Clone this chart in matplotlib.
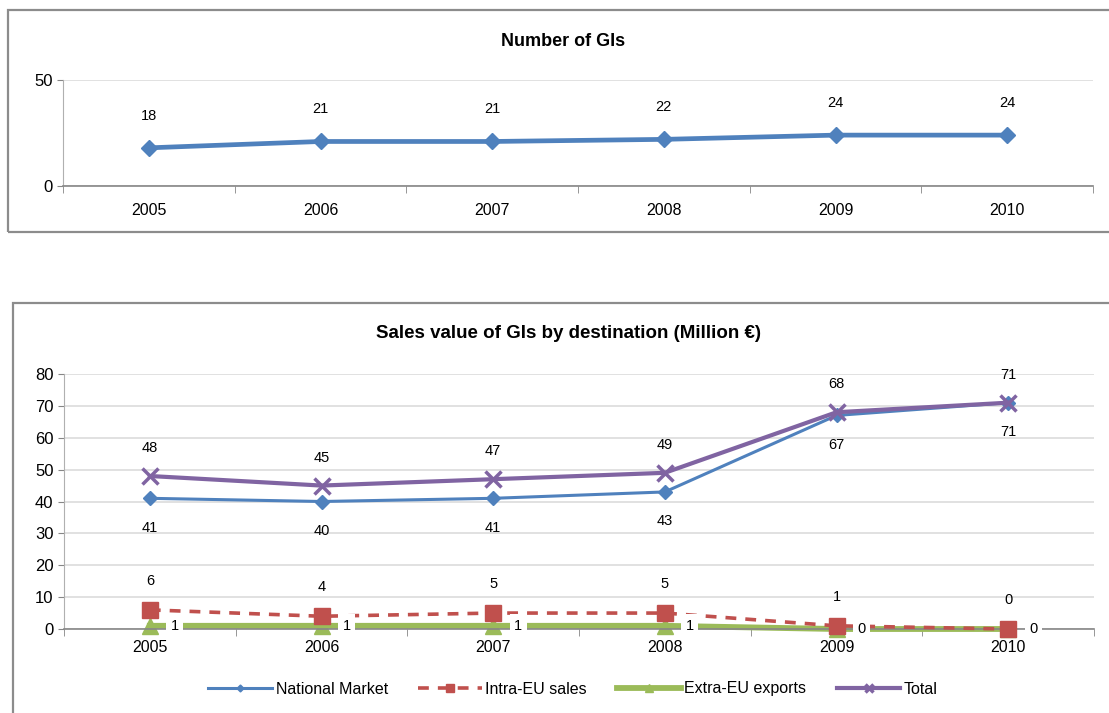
import numpy as np
import matplotlib.pyplot as plt
from matplotlib.patches import Rectangle

plt.rcParams["font.family"] = ["Liberation Sans", "DejaVu Sans"]

# ------------------------------------------------------------
# Data
# ------------------------------------------------------------
years = ["2005", "2006", "2007", "2008", "2009", "2010"]

n_gis = [18, 21, 21, 22, 24, 24]

national_market = [41, 40, 41, 43, 67, 71]
intra_eu_sales = [6, 4, 5, 5, 1, 0]
extra_eu_exports = [1, 1, 1, 1, 0, 0]
total_sales = [48, 45, 47, 49, 68, 71]

C_BLUE = "#4F81BD"
C_RED = "#C0504D"
C_GREEN = "#9BBB59"
C_PURPLE = "#8064A2"
GRID = "#dcdcdc"
AXIS = "#868686"

W, H = 1109, 713
fig = plt.figure(figsize=(W / 100, H / 100), dpi=100)


def frac(x0, y0, x1, y1):
    # pixel box (top-left origin) -> figure fraction rect
    return [x0 / W, 1 - y1 / H, (x1 - x0) / W, (y1 - y0) / H]


# panel borders
for x0, y0, x1, y1 in [(8, 10, 1115, 232), (13, 303, 1115, 720)]:
    fig.patches.append(Rectangle((x0 / W, 1 - y1 / H), (x1 - x0) / W, (y1 - y0) / H,
                                 transform=fig.transFigure, fill=False,
                                 edgecolor="#8c8c8c", linewidth=1.6, clip_on=False))

x = np.arange(len(years))


def style_axis(ax, ymax, step, xpad):
    ax.set_xlim(-0.5, len(years) - 0.5)
    ax.set_ylim(0, ymax)
    ax.set_yticks(np.arange(0, ymax + 1, step))
    ax.set_xticks(x)
    ax.set_xticklabels(years)
    ax.set_xticks(np.arange(-0.5, len(years), 1), minor=True)
    ax.tick_params(axis="x", which="major", length=0, labelsize=11.5, pad=xpad)
    ax.tick_params(axis="x", which="minor", length=5, direction="out", color=AXIS)
    ax.tick_params(axis="y", length=4, direction="out", color=AXIS, labelsize=12)
    for s in ["top", "right"]:
        ax.spines[s].set_visible(False)
    ax.spines["bottom"].set_color(AXIS)
    ax.spines["bottom"].set_linewidth(1.2)
    ax.spines["left"].set_color("#b0b0b0")
    ax.yaxis.grid(True, which="major", color=GRID, linewidth=1.2, linestyle="-")
    ax.xaxis.grid(False)
    ax.set_axisbelow(True)


# ------------------------------------------------------------
# Number of GIs
# ------------------------------------------------------------
ax1 = fig.add_axes(frac(63, 80, 1093, 186))
style_axis(ax1, 50, 50, 12)
ax1.plot(x, n_gis, color=C_BLUE, linewidth=3.4, marker="D", markersize=8, clip_on=False)
for xi, v in zip(x, n_gis):
    ax1.annotate(str(v), (xi, v), xytext=(0, 18), textcoords="offset points",
                 ha="center", va="bottom", fontsize=10.5)
fig.text(563 / W, 1 - 42 / H, "Number of GIs", ha="center", va="center",
         fontsize=13, fontweight="bold")

# ------------------------------------------------------------
# Sales value by destination
# ------------------------------------------------------------
ax2 = fig.add_axes(frac(64, 374, 1094, 629))
style_axis(ax2, 80, 10, 8)

ax2.plot(x, national_market, color=C_BLUE, linewidth=2.2, marker="D", markersize=7,
         label="National Market", zorder=4, clip_on=False)
ax2.plot(x, intra_eu_sales, color=C_RED, linewidth=2.6, linestyle=(0, (3, 2.5)),
         marker="s", markersize=11, label="Intra-EU sales", zorder=3, clip_on=False)
ax2.plot(x, extra_eu_exports, color=C_GREEN, linewidth=4.2, marker="^", markersize=12,
         label="Extra-EU exports", zorder=2, clip_on=False)
ax2.plot(x, total_sales, color=C_PURPLE, linewidth=3.0, marker="x", markersize=12,
         markeredgewidth=2.5, label="Total", zorder=5, clip_on=False)

for xi, v in zip(x, national_market):
    ax2.annotate(str(v), (xi, v), xytext=(0, -16), textcoords="offset points",
                 ha="center", va="top", fontsize=10.5)
for xi, v in zip(x, total_sales):
    ax2.annotate(str(v), (xi, v), xytext=(0, 15), textcoords="offset points",
                 ha="center", va="bottom", fontsize=10.5)
for xi, v in zip(x, intra_eu_sales):
    ax2.annotate(str(v), (xi, v), xytext=(0, 16), textcoords="offset points",
                 ha="center", va="bottom", fontsize=10.5)
for xi, v in zip(x, extra_eu_exports):
    ax2.annotate(str(v), (xi, v), xytext=(18, 0), textcoords="offset points",
                 ha="center", va="center", fontsize=10.5, zorder=6,
                 bbox=dict(boxstyle="square,pad=0.3", facecolor="white", edgecolor="none"))

fig.text(568 / W, 1 - 333 / H, "Sales value of GIs by destination (Million €)",
         ha="center", va="center", fontsize=13.5, fontweight="bold")

handles, labels = ax2.get_legend_handles_labels()
leg = fig.legend(handles, labels, loc="center", bbox_to_anchor=(573 / W, 1 - 689 / H),
                 ncol=4, frameon=False, fontsize=11.5, handlelength=4.0,
                 columnspacing=1.9, handletextpad=0.2, markerscale=0.5)

fig.savefig("out.png", dpi=100)
